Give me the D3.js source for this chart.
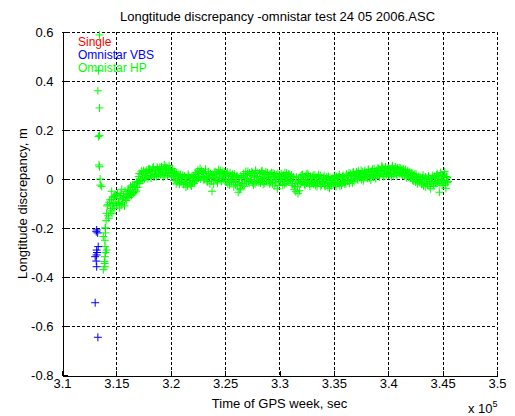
<!DOCTYPE html>
<html>
<head>
<meta charset="utf-8">
<script src="https://cdn.jsdelivr.net/npm/d3@7/dist/d3.min.js"></script>
<style>
  html, body { margin: 0; padding: 0; background: #fff; }
  svg { display: block; font-family: "Liberation Sans", Arial, sans-serif; }
</style>
</head>
<body>
<svg id="chart" width="515" height="416"></svg>
<script>
// ---------------- DATA ----------------
const titleText = "Longtitude discrepancy -omnistar test 24 05 2006.ASC";
const xLabel = "Time of GPS week, sec";
const yLabel = "Longtitude discrepancy, m";
const seriesNames = ["Single", "Omnistar VBS", "Omnistar HP"];
const seriesColors = ["#ff0000", "#0000ff", "#00ff00"];

const xTicks = [3.1, 3.15, 3.2, 3.25, 3.3, 3.35, 3.4, 3.45, 3.5];   // x 10^5 s
const yTicks = [-0.8, -0.6, -0.4, -0.2, 0, 0.2, 0.4, 0.6];

// Single: no points visible in the plotted range
const singleTime = [];
const singleVal = [];

// Omnistar VBS (time in 10^5 s, discrepancy in m)
const vbsTime = [3.1319, 3.1328, 3.1315, 3.1333, 3.1319, 3.1322, 3.1318, 3.1305, 3.1315, 3.1319, 3.1305, 3.1330];
const vbsVal  = [-0.208, -0.220, -0.215, -0.276, -0.290, -0.300, -0.310, -0.317, -0.335, -0.358, -0.505, -0.646];

// Omnistar HP: convergence-period points
const hpEarlyTime = [3.1345, 3.1335, 3.1330, 3.1345, 3.1335, 3.1345, 3.1340, 3.1345, 3.1350, 3.1352, 3.1365, 3.1457, 3.1480,
                     3.1380, 3.1395, 3.1410, 3.1395, 3.1390, 3.1395, 3.1380, 3.1400, 3.1395, 3.1392, 3.1400, 3.1398];
const hpEarlyVal  = [0.588, 0.442, 0.360, 0.290, 0.173, 0.178, 0.057, 0.050, 0.000, -0.025, -0.030, -0.050, -0.070,
                     -0.235, -0.250, -0.290, -0.317, -0.337, -0.358, -0.370, -0.300, -0.275, -0.345, -0.220, -0.200];

// Omnistar HP: main record, epochs every 0.001 x 10^5 s from 3.1400 (hpValA)
// and the interleaved epochs from 3.1405 (hpValB)
const hpStart = 3.140;
const hpStep = 0.001;
const hpValA = [
  -0.200, -0.140, -0.105, -0.160, -0.085, -0.120, -0.140, -0.075, -0.120, -0.065,
  -0.108, -0.058, -0.094, -0.118, -0.068, -0.042, -0.098, -0.074, -0.050, -0.088,
  -0.072, -0.042, -0.063, -0.029, -0.064, -0.024, -0.055, -0.021, -0.052, -0.012,
  -0.011, 0.022, -0.005, 0.032, 0.003, 0.034, 0.003, 0.014, 0.037, 0.002,
  0.014, 0.038, 0.004, 0.024, 0.050, 0.018, 0.034, 0.010, 0.044, 0.028,
  0.048, 0.018, 0.038, 0.008, 0.058, 0.028, 0.044, 0.012, 0.034, 0.024,
  0.035, 0.008, 0.025, -0.006, 0.023, -0.020, 0.013, 0.000, -0.021, 0.018,
  -0.009, 0.015, -0.023, 0.007, -0.033, -0.005, 0.019, -0.017, 0.003, -0.029,
  -0.016, 0.012, -0.009, 0.027, -0.006, 0.036, 0.009, 0.043, 0.008, 0.022,
  0.026, 0.000, 0.040, 0.010, -0.010, 0.020, -0.020, 0.014, -0.050, 0.006,
  0.028, 0.000, 0.018, -0.016, 0.038, 0.008, 0.024, -0.006, 0.032, 0.012,
  0.016, -0.012, 0.028, 0.000, -0.024, 0.012, -0.008, 0.020, -0.032, 0.004,
  -0.010, 0.014, -0.054, -0.014, -0.038, 0.006, -0.024, 0.022, -0.004, 0.030,
  0.003, 0.031, -0.017, 0.015, -0.005, 0.025, -0.025, 0.007, 0.035, -0.009,
  0.010, -0.014, 0.022, -0.002, 0.034, -0.022, 0.006, 0.018, -0.010, 0.026,
  0.008, -0.020, 0.020, -0.004, 0.024, -0.028, 0.000, 0.016, -0.040, 0.008,
  0.018, -0.010, 0.010, -0.026, 0.002, 0.026, -0.018, 0.006, -0.006, 0.018,
  -0.004, 0.016, -0.020, 0.008, -0.032, -0.052, -0.008, -0.060, -0.016, 0.012,
  -0.010, 0.018, -0.002, -0.022, 0.010, -0.014, 0.022, -0.006, -0.030, 0.002,
  -0.014, 0.014, -0.006, -0.026, 0.006, -0.018, 0.018, -0.010, -0.030, 0.002,
  -0.014, 0.014, -0.030, -0.002, -0.018, 0.010, -0.038, -0.006, -0.022, 0.002,
  -0.014, 0.014, -0.030, 0.002, -0.018, 0.018, -0.010, -0.026, 0.010, -0.006,
  0.004, -0.020, 0.016, -0.008, 0.024, -0.004, 0.012, -0.016, 0.028, 0.004,
  0.009, 0.029, -0.003, 0.021, 0.005, 0.035, 0.013, -0.007, 0.025, 0.017,
  0.027, 0.003, 0.039, 0.015, -0.005, 0.031, 0.011, 0.043, 0.019, 0.035,
  0.016, 0.040, 0.008, 0.032, 0.052, 0.020, 0.044, 0.012, 0.036, 0.024,
  0.046, 0.018, 0.038, 0.010, 0.054, 0.030, 0.022, 0.042, 0.014, 0.038,
  0.046, 0.024, 0.038, 0.016, 0.038, 0.012, 0.038, 0.004, 0.034, 0.016,
  0.026, 0.004, 0.022, -0.008, 0.018, -0.012, 0.010, -0.020, 0.010, -0.008,
  0.004, -0.020, 0.016, -0.012, -0.032, 0.000, -0.024, 0.012, -0.016, -0.040,
  -0.010, 0.014, -0.030, 0.002, -0.018, 0.022, -0.006, -0.054, 0.026, -0.002,
  0.014, -0.018, 0.030, -0.038, 0.006, -0.010
];
const hpValB = [
  -0.170, -0.110, -0.150, -0.095, -0.130, -0.085, -0.110, -0.100, -0.070, -0.095,
  -0.065, -0.100, -0.080, -0.060, -0.105, -0.085, -0.070, -0.110, -0.078, -0.060,
  -0.050, -0.075, -0.048, -0.068, -0.035, -0.058, -0.030, -0.045, -0.015, -0.035,
  0.010, -0.018, 0.020, -0.006, 0.028, 0.000, 0.030, 0.008, 0.024, 0.040,
  0.040, 0.012, 0.030, 0.045, 0.008, 0.036, 0.020, 0.048, 0.015, 0.038,
  0.020, 0.050, 0.026, 0.042, 0.015, 0.052, 0.036, 0.022, 0.055, 0.040,
  0.015, 0.042, 0.010, 0.030, 0.000, 0.024, -0.012, 0.018, 0.008, -0.014,
  0.008, -0.020, 0.012, -0.016, 0.004, -0.028, 0.014, -0.006, -0.024, 0.010,
  0.006, -0.018, 0.018, -0.002, 0.024, 0.004, 0.030, 0.000, 0.034, 0.010,
  -0.004, 0.024, 0.006, -0.012, 0.030, 0.002, 0.022, -0.008, 0.018, -0.020,
  0.004, 0.030, -0.006, 0.022, 0.000, 0.034, -0.010, 0.018, 0.002, 0.028,
  -0.010, 0.022, -0.020, 0.010, 0.026, -0.014, 0.016, -0.004, 0.020, -0.024,
  0.010, -0.026, 0.004, -0.044, 0.014, -0.018, 0.008, -0.030, 0.016, -0.012,
  0.020, -0.010, 0.024, -0.002, 0.030, -0.016, 0.014, -0.020, 0.010, 0.026,
  -0.008, 0.024, -0.016, 0.030, 0.002, 0.020, -0.018, 0.028, 0.004, -0.012,
  0.018, -0.012, 0.026, -0.020, 0.010, 0.020, -0.016, 0.004, 0.022, -0.026,
  -0.012, 0.022, -0.004, 0.016, -0.022, 0.012, 0.024, -0.010, 0.020, -0.006,
  0.010, -0.026, 0.004, -0.044, -0.018, 0.008, -0.030, -0.004, -0.048, -0.020,
  0.016, -0.014, 0.008, -0.026, 0.020, -0.008, 0.014, -0.020, 0.010, -0.018,
  0.008, -0.022, 0.016, -0.012, -0.030, 0.010, -0.004, 0.014, -0.024, -0.010,
  0.004, -0.026, -0.008, 0.008, -0.032, -0.014, 0.006, -0.028, -0.004, -0.020,
  0.006, -0.022, 0.010, -0.014, 0.008, -0.028, 0.004, -0.016, 0.014, -0.020,
  -0.012, 0.020, -0.006, 0.014, -0.018, 0.022, -0.002, 0.026, -0.010, 0.016,
  0.026, 0.000, 0.032, 0.008, 0.020, -0.002, 0.030, 0.006, 0.034, 0.010,
  0.010, 0.036, 0.004, 0.030, 0.018, 0.040, 0.008, 0.026, 0.002, 0.032,
  0.044, 0.014, 0.036, 0.024, 0.048, 0.010, 0.032, 0.050, 0.018, 0.040,
  0.016, 0.040, 0.024, 0.048, 0.012, 0.036, 0.050, 0.020, 0.044, 0.026,
  0.022, 0.044, 0.020, 0.040, 0.014, 0.034, 0.022, 0.028, 0.008, 0.026,
  0.004, 0.024, -0.004, 0.016, 0.000, 0.020, -0.010, 0.008, -0.014, 0.006,
  -0.020, 0.006, -0.028, -0.002, 0.008, -0.018, 0.004, -0.030, 0.002, -0.012,
  0.006, -0.024, 0.010, -0.016, 0.016, -0.012, 0.012, -0.020, 0.004, -0.026,
  -0.006, 0.020, -0.024, 0.010, -0.014
];

// ---------------- CHART ----------------
const svg = d3.select("#chart");
const margin = {left: 62, right: 18, top: 32, bottom: 41};
const W = 515, H = 416;
const FS = 13;
const x = d3.scaleLinear().domain([3.1, 3.5]).range([margin.left, W - margin.right]);
const y = d3.scaleLinear().domain([-0.8, 0.6]).range([H - margin.bottom, margin.top]);
const fmt = d => String(+d.toFixed(2));

// grid
const grid = svg.append("g").attr("stroke", "#000").attr("stroke-width", 1)
  .attr("stroke-dasharray", "3,2").attr("shape-rendering", "crispEdges");
grid.selectAll(".gx").data(xTicks.slice(1)).join("line")
  .attr("x1", d => Math.round(x(d)) + 0.5).attr("x2", d => Math.round(x(d)) + 0.5)
  .attr("y1", y(0.6)).attr("y2", y(-0.8));
grid.selectAll(".gy").data(yTicks.slice(1)).join("line")
  .attr("y1", d => Math.round(y(d)) + 0.5).attr("y2", d => Math.round(y(d)) + 0.5)
  .attr("x1", x(3.1)).attr("x2", x(3.5));

// axes
const xAxis = d3.axisBottom(x).tickValues(xTicks).tickFormat(fmt).tickSizeInner(-5).tickSizeOuter(0).tickPadding(8);
const yAxis = d3.axisLeft(y).tickValues(yTicks).tickFormat(fmt).tickSizeInner(-5).tickSizeOuter(0).tickPadding(8);
const gx = svg.append("g").attr("transform", `translate(0,${Math.round(y(-0.8)) + 0.5})`).call(xAxis);
const gy = svg.append("g").attr("transform", `translate(${Math.round(x(3.1)) + 0.5},0)`).call(yAxis);
[gx, gy].forEach(g => {
  g.selectAll("path, line").attr("stroke", "#000").attr("shape-rendering", "crispEdges");
  g.selectAll("text").attr("fill", "#000").attr("font-size", FS)
    .attr("font-family", "'Liberation Sans', Arial, sans-serif");
});
gx.selectAll("text").attr("dy", "0.35em");
gy.selectAll("text").attr("dx", "-1px");

// series markers (+)
function plus(g, xs, ys, color) {
  const pts = xs.map((t, i) => [t, ys[i]]);
  g.append("path")
    .attr("d", pts.map(p => {
      const px = x(p[0]), py = y(p[1]);
      return `M${px - 4},${py}H${px + 4}M${px},${py - 4}V${py + 4}`;
    }).join(""))
    .attr("stroke", color).attr("stroke-width", 1).attr("fill", "none");
}
const plot = svg.append("g");
const hpTimeA = hpValA.map((v, i) => +(hpStart + i * hpStep).toFixed(4));
const hpTimeB = hpValB.map((v, i) => +(hpStart + hpStep / 2 + i * hpStep).toFixed(4));
plus(plot, singleTime, singleVal, seriesColors[0]);
plus(plot, hpEarlyTime, hpEarlyVal, seriesColors[2]);
plus(plot, hpTimeA, hpValA, seriesColors[2]);
plus(plot, hpTimeB, hpValB, seriesColors[2]);
plus(plot, vbsTime, vbsVal, seriesColors[1]);

// title & labels
svg.append("text").attr("x", (x(3.1) + x(3.5)) / 2 - 2).attr("y", 21)
  .attr("text-anchor", "middle").attr("font-size", FS).text(titleText);
svg.append("text").attr("x", (x(3.1) + x(3.5)) / 2).attr("y", 408)
  .attr("text-anchor", "middle").attr("font-size", FS).text(xLabel);
svg.append("text").attr("transform", `translate(27,${(y(0.6) + y(-0.8)) / 2}) rotate(-90)`)
  .attr("text-anchor", "middle").attr("font-size", FS).text(yLabel);
const ex = svg.append("text").attr("x", 468).attr("y", 413).attr("font-size", FS);
ex.append("tspan").text("x 10");
ex.append("tspan").attr("dy", -6).attr("font-size", 9).text("5");

// legend (text only)
const leg = svg.append("g");
seriesNames.forEach((n, i) => {
  leg.append("text").attr("x", 78).attr("y", 46 + i * 13).attr("font-size", 12)
    .attr("fill", seriesColors[i]).text(n);
});
</script>
</body>
</html>
